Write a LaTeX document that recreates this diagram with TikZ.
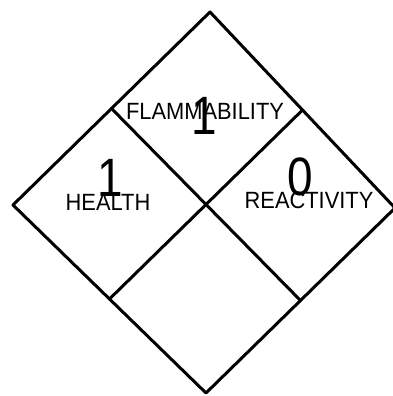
\documentclass[tikz,border=0pt]{standalone}
\usepackage{fontspec}
\setmainfont{Liberation Sans}
\usetikzlibrary{calc}
\begin{document}
\begin{tikzpicture}[x=1pt,y=1pt,
  edge/.style={line width=3pt,line join=round,line cap=round},
  label/.style={inner sep=0pt,font=\fontsize{23.5}{23.5}\selectfont,xscale=0.93},
  digit/.style={inner sep=0pt,font=\fontsize{54}{54}\selectfont,xscale=0.85}]
\useasboundingbox[fill=white] (0,0) rectangle (393,396);
\clip (0,0) rectangle (393,396);
\coordinate (T) at (210,384);
\coordinate (R) at (395,188);
\coordinate (B) at (206,3);
\coordinate (L) at (13,191);
\coordinate (TL) at ($(T)!0.5!(L)$);
\coordinate (TR) at ($(T)!0.5!(R)$);
\coordinate (BL) at ($(B)!0.5!(L)$);
\coordinate (BR) at ($(B)!0.5!(R)$);
\draw[edge] (T) -- (R) -- (B) -- (L) -- cycle;
\draw[edge] (TL) -- (BR);
\draw[edge] (TR) -- (BL);
\node[label] (flam) at (205,285) {FLAMMABILITY};
\node[digit] (flamn) at (204,280) {1};
\node[label] (health) at (108,194) {HEALTH};
\node[digit] (healthn) at (110,218) {1};
\node[label] (react) at (309,196) {REACTIVITY};
\node[digit] (reactn) at (300,219) {0};
\end{tikzpicture}
\end{document}
